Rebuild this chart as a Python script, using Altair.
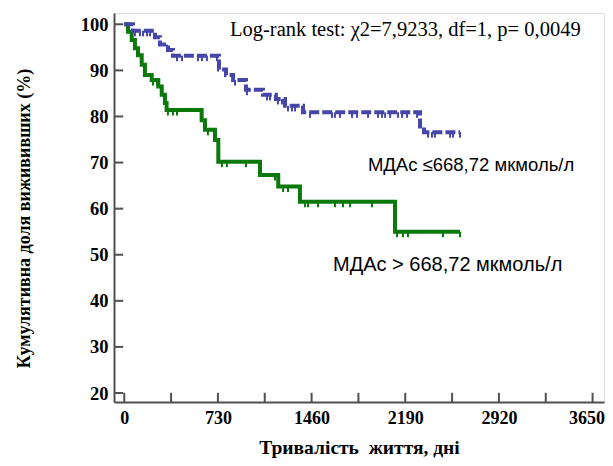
import altair as alt
import pandas as pd
import numpy as np

# ---- data ----
# group "МДАс ≤668,72" (blue, dashed)
blue_t = [0, 68, 239, 278, 341, 380, 738, 793, 848, 949, 1081, 1182, 1253, 1393, 2305, 2336]
blue_s = [100, 98.6, 97.2, 95.6, 94.4, 93.2, 90.2, 89.0, 87.9, 85.8, 84.7, 83.8, 82.3, 80.9, 77.8, 76.6]
blue_end = 2617
blue_cens = [83, 122, 146, 178, 201, 333, 411, 450, 574, 605, 644, 723, 863, 956, 1112, 1136,
             1198, 1229, 1276, 1307, 1331, 1447, 1619, 1642, 1681, 1775, 1814, 1900, 1978, 2009,
             2033, 2072, 2134, 2165, 2204, 2282, 2367, 2398, 2421, 2539, 2562, 2617]

# group "МДАс > 668,72" (green, solid)
green_t = [0, 29, 58, 83, 107, 136, 161, 214, 265, 292, 317, 330, 603, 629, 707, 733, 1058, 1200, 1369, 2110]
green_s = [100, 98.4, 96.6, 94.8, 93.3, 91.2, 89.0, 87.9, 86.5, 84.7, 82.9, 81.4, 79.2, 77.1, 74.9, 70.2,
           67.3, 64.8, 61.5, 55.0]
green_end = 2617
green_cens = [224, 255, 340, 379, 411, 652, 761, 800, 949, 1175, 1238, 1276, 1408, 1432, 1510, 1642,
              1705, 1760, 1931, 2126, 2172, 2211, 2484, 2617]

x_ticks = [0, 365, 730, 1095, 1460, 1825, 2190, 2555, 2920, 3285, 3650]
x_labels = [0, 730, 1460, 2190, 2920, 3650]
y_ticks = [20, 30, 40, 50, 60, 70, 80, 90, 100]

x_title = "Тривалість\u00a0 життя, дні"
y_title = "Кумулятивна доля вижививших (%)"

ann_text = ["Log-rank test: \u03c72=7,9233, df=1, p= 0,0049",
            "МДАс \u2264668,72 мкмоль/л",
            "МДАс > 668,72 мкмоль/л"]
ann_x = [824, 1899, 1627]
ann_y = [97.5, 68.2, 46.4]
ann_font = ["Liberation Serif", "Liberation Sans", "Liberation Sans"]
ann_size = [20.5, 18.5, 20]

X_DOM = [-80, 3739]
Y_DOM = [18.05, 102.45]
BLUE = "#4646aa"
GREEN = "#0a780a"
AXC = "#505050"


def curve(t, s, end):
    return pd.DataFrame({"t": list(t) + [end], "s": list(s) + [s[-1]]})


def cens(t, s, c):
    t = np.array(t)
    s = np.array(s)
    idx = np.searchsorted(t, np.array(c), side="right") - 1
    sv = s[idx]
    return pd.DataFrame({"t": c, "s": sv, "s2": sv - 1.2})


xs = alt.Scale(domain=X_DOM, nice=False, zero=False)
ys = alt.Scale(domain=Y_DOM, nice=False, zero=False)

last_lab = x_labels[-1]
xaxis = alt.Axis(values=x_labels, format="d", ticks=False, grid=False, domainColor=AXC, domainWidth=2,
                 labelFont="Liberation Serif", labelFontWeight="bold", labelFontSize=18,
                 labelColor="black", labelPadding=7, labelFlush=False,
                 labelAlign={"condition": {"test": f"datum.value >= {last_lab}", "value": "right"},
                             "value": "center"},
                 labelOffset={"condition": {"test": f"datum.value >= {last_lab}", "value": 12},
                              "value": 0},
                 title=x_title, titleFont="Liberation Serif",
                 titleFontWeight="bold", titleFontSize=19.5, titleColor="black", titlePadding=11)
yaxis = alt.Axis(values=y_ticks, format="d", ticks=False, grid=False, domainColor=AXC, domainWidth=2,
                 labelFont="Liberation Serif", labelFontWeight="bold", labelFontSize=18.5,
                 labelColor="black", labelPadding=6, labelFlush=False, title=None)

base_blue = curve(blue_t, blue_s, blue_end)
base_green = curve(green_t, green_s, green_end)

green_line = alt.Chart(base_green).mark_line(
    interpolate="step-after", color=GREEN, strokeWidth=4
).encode(x=alt.X("t:Q", scale=xs, axis=xaxis), y=alt.Y("s:Q", scale=ys, axis=yaxis))

blue_line = alt.Chart(base_blue).mark_line(
    interpolate="step-after", color=BLUE, strokeWidth=4, strokeDash=[10, 3]
).encode(x=alt.X("t:Q", scale=xs), y=alt.Y("s:Q", scale=ys))

green_c = alt.Chart(cens(green_t, green_s, green_cens)).mark_rule(color=GREEN, strokeWidth=2).encode(
    x=alt.X("t:Q", scale=xs), y=alt.Y("s:Q", scale=ys), y2="s2:Q")
blue_c = alt.Chart(cens(blue_t, blue_s, blue_cens)).mark_rule(color=BLUE, strokeWidth=2).encode(
    x=alt.X("t:Q", scale=xs), y=alt.Y("s:Q", scale=ys), y2="s2:Q")

xt = alt.Chart(pd.DataFrame({"v": x_ticks, "a": Y_DOM[0], "b": Y_DOM[0] + 2.0})).mark_rule(
    color=AXC, strokeWidth=2).encode(x=alt.X("v:Q", scale=xs), y=alt.Y("a:Q", scale=ys), y2="b:Q")
yt = alt.Chart(pd.DataFrame({"v": y_ticks, "a": X_DOM[0], "b": X_DOM[0] + 72})).mark_rule(
    color=AXC, strokeWidth=2).encode(y=alt.Y("v:Q", scale=ys), x=alt.X("a:Q", scale=xs), x2="b:Q")

ann_df = pd.DataFrame({"txt": ann_text, "x": ann_x, "y": ann_y, "f": ann_font, "sz": ann_size})
ann_layers = []
for _, r in ann_df.iterrows():
    ann_layers.append(
        alt.Chart(pd.DataFrame([r])).mark_text(
            align="left", baseline="alphabetic", font=r["f"], fontSize=float(r["sz"]), color="black"
        ).encode(x=alt.X("x:Q", scale=xs), y=alt.Y("y:Q", scale=ys), text="txt:N")
    )

ytitle = alt.Chart(pd.DataFrame({"txt": [y_title]})).mark_text(
    angle=270, align="center", baseline="alphabetic", font="Liberation Serif",
    fontWeight="bold", fontSize=18, color="black"
).encode(text="txt:N", x=alt.value(-84), y=alt.value(205.5))

chart = alt.layer(green_line, blue_line, green_c, blue_c, xt, yt, *ann_layers, ytitle).properties(
    width=490, height=389,
    padding={"left": 106, "top": 5, "right": 1, "bottom": 56},
    autosize=alt.AutoSizeParams(type="none"),
).configure_view(stroke=None).configure(background="white")

chart.save("out.html", embed_options={"renderer": "svg", "actions": False})
